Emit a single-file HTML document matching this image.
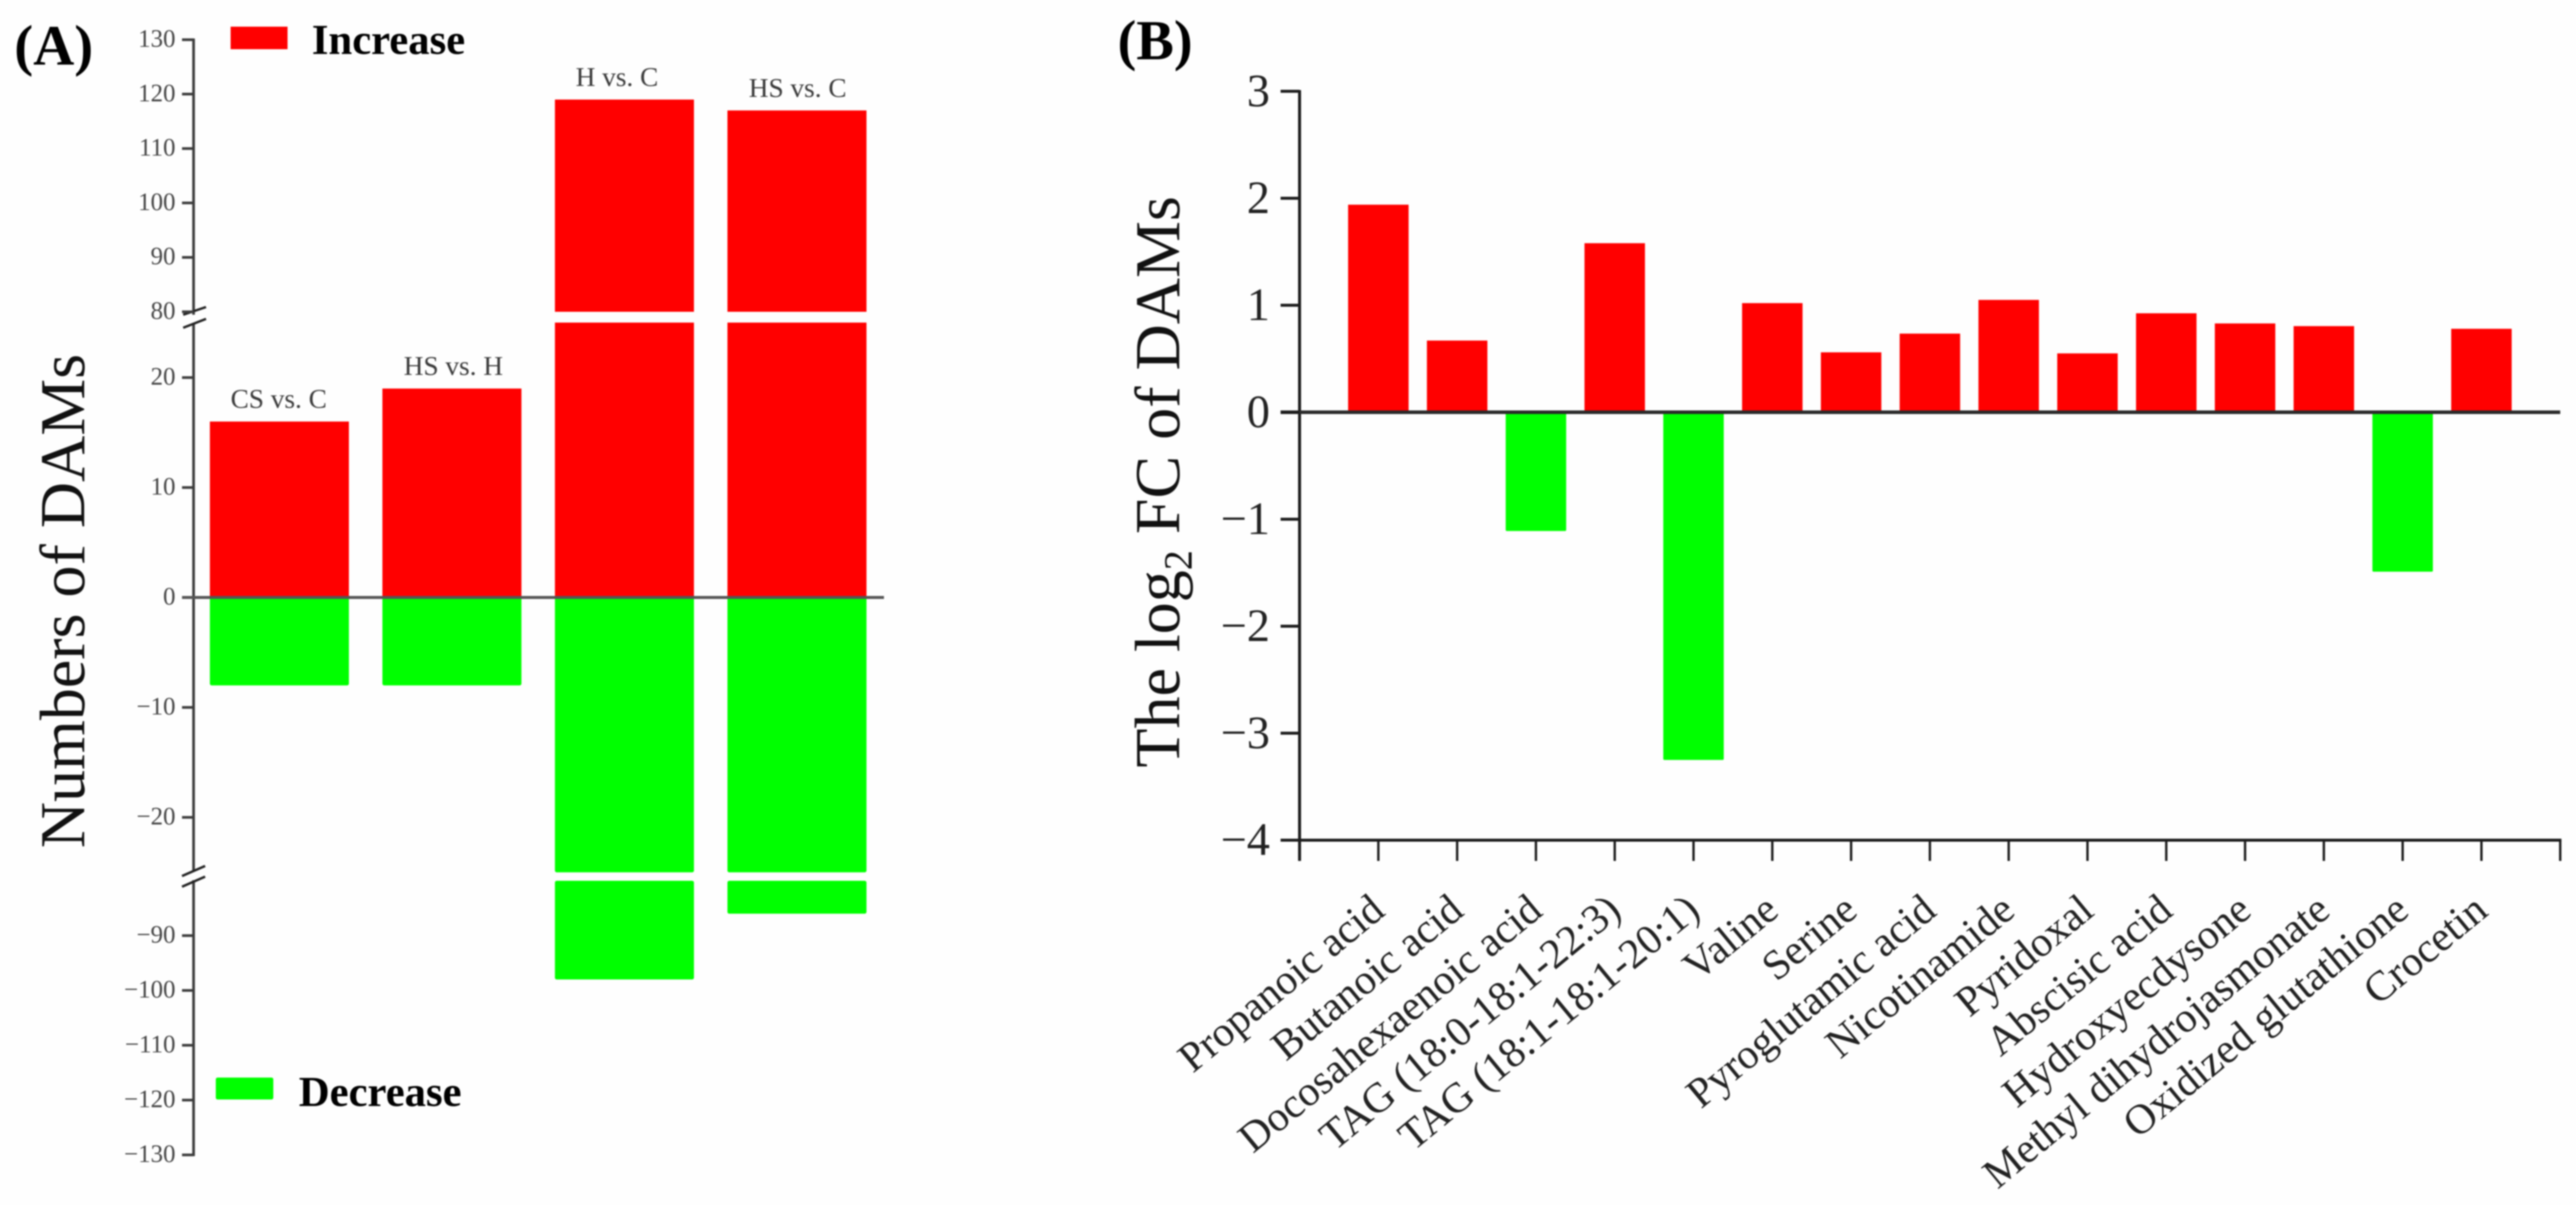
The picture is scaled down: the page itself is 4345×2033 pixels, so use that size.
<!DOCTYPE html>
<html lang="en">
<head>
<meta charset="utf-8">
<title>Numbers and log2 FC of DAMs</title>
<style>
html,body{margin:0;padding:0;background:#fefefe;}
svg{display:block;font-family:"Liberation Serif","Times New Roman",serif;filter:blur(1.2px);}
</style>
</head>
<body>
<svg id="figure" xmlns="http://www.w3.org/2000/svg" width="4345" height="2033" viewBox="0 0 4345 2033">
  <rect x="0" y="0" width="4345" height="2033" fill="#fefefe"/>
  <g id="panel-a"></g>
  <g id="panel-b"></g>

  <text x="24" y="109" font-size="96" font-weight="bold" fill="#000">(A)</text>
  <text x="1885" y="100" font-size="95" font-weight="bold" fill="#000">(B)</text>

  <text transform="translate(142,1431) rotate(-90)" font-size="108" fill="#111">Numbers of DAMs</text>
  <text transform="translate(1989,1295) rotate(-90)" font-size="108" fill="#111">The log<tspan font-size="68" dy="21">2</tspan><tspan dy="-21"> FC of DAMs</tspan></text>

  <rect x="389" y="45" width="96" height="38" fill="#ff0000"/>
  <text x="526" y="91" font-size="72" font-weight="bold" fill="#000">Increase</text>
  <rect x="364" y="1818" width="97" height="37" rx="3" fill="#00ff00"/>
  <text x="504" y="1866" font-size="72" font-weight="bold" fill="#000">Decrease</text>
</svg>

<script>
/* Panel A data */
const comparisons = ['CS vs. C', 'HS vs. H', 'H vs. C', 'HS vs. C'];
const increaseCounts = [16, 19, 119, 117];
const decreaseCounts = [-8, -8, -98, -86];
const panelATicks = [130, 120, 110, 100, 90, 80, 20, 10, 0, -10, -20, -90, -100, -110, -120, -130];
const panelATickLabels = ['130', '120', '110', '100', '90', '80', '20', '10', '0', '\u221210', '\u221220', '\u221290', '\u2212100', '\u2212110', '\u2212120', '\u2212130'];

/* Panel B data */
const metabolites = ['Propanoic acid', 'Butanoic acid', 'Docosahexaenoic acid', 'TAG (18:0-18:1-22:3)', 'TAG (18:1-18:1-20:1)', 'Valine', 'Serine', 'Pyroglutamic acid', 'Nicotinamide', 'Pyridoxal', 'Abscisic acid', 'Hydroxyecdysone', 'Methyl dihydrojasmonate', 'Oxidized glutathione', 'Crocetin'];
const log2FoldChange = [1.94, 0.67, -1.11, 1.58, -3.25, 1.02, 0.56, 0.735, 1.05, 0.55, 0.925, 0.83, 0.805, -1.49, 0.78];
const panelBTicks = [3, 2, 1, 0, -1, -2, -3, -4];
const panelBTickLabels = ['3', '2', '1', '0', '\u22121', '\u22122', '\u22123', '\u22124'];

const SVG_NS = 'http://www.w3.org/2000/svg';

function make(parent, tag, geometry, text) {
  const node = document.createElementNS(SVG_NS, tag);
  Object.keys(geometry).forEach(function (key) { node.setAttribute(key, geometry[key]); });
  if (text !== undefined) { node.textContent = text; }
  parent.appendChild(node);
  return node;
}

function slug(text) {
  return String(text).toLowerCase().replace(/[^a-z0-9]+/g, '-').replace(/^-|-$/g, '');
}

/* ---------- Panel A: three-part broken y axis ---------- */
const panelA = document.getElementById('panel-a');

function yA(v) {
  if (v >= 80) { return 526 + (80 - v) * 9.18; }
  if (v <= -80) { return 1486 + (-80 - v) * 9.25; }
  return 1008 - v * 18.55;
}
const breakHigh = 25;
const breakLow = 80;

function xA(i) {
  return [354, 645, 936, 1227][i];
}
const barWidthA = 234.5;

function drawBarA(i, top, bottom, color, kind, part) {
  const bar = make(panelA, 'rect', { x: xA(i), y: top, width: barWidthA, height: bottom - top, fill: color, rx: color === '#00ff00' ? 3 : 0 });
  
  
}

comparisons.forEach(function (name, i) {
  const up = increaseCounts[i];
  if (up > breakHigh) {
    drawBarA(i, yA(breakHigh), yA(0), '#ff0000', 'increase', '-lower');
    drawBarA(i, yA(up), yA(breakLow), '#ff0000', 'increase', '-upper');
  } else {
    drawBarA(i, yA(up), yA(0), '#ff0000', 'increase', '');
  }
  const down = decreaseCounts[i];
  if (-down > breakHigh) {
    drawBarA(i, yA(0), yA(-breakHigh), '#00ff00', 'decrease', '-upper');
    drawBarA(i, yA(-breakLow), yA(down), '#00ff00', 'decrease', '-lower');
  } else {
    drawBarA(i, yA(0), yA(down), '#00ff00', 'decrease', '');
  }
});

const barLabelOffsets = [389, 681, 971, 1263];
comparisons.forEach(function (name, i) {
  const label = make(panelA, 'text', { x: barLabelOffsets[i], y: yA(increaseCounts[i]) - 23, 'font-size': 46, fill: '#3a3a3a' }, name);
  
  
});

const axisColorA = '#3c3c3c';
[[yA(130), 531], [547, 1470], [1487, yA(-130) + 2]].forEach(function (span, i) {
  const seg = make(panelA, 'line', { x1: 326.5, x2: 326.5, y1: span[0] - 2, y2: span[1], stroke: axisColorA, 'stroke-width': 4.5 });
  
  
});

[[309, 531, 347.5, 518], [309, 553, 347.5, 538], [307, 1478, 346, 1461], [307, 1496, 346, 1479]].forEach(function (s, i) {
  const mark = make(panelA, 'line', { x1: s[0], y1: s[1], x2: s[2], y2: s[3], stroke: '#222', 'stroke-width': 4 });
  
  
});

panelATicks.forEach(function (value, i) {
  const tick = make(panelA, 'line', { x1: 307, x2: 327, y1: yA(value), y2: yA(value), stroke: axisColorA, 'stroke-width': 4.5 });
  
  
  const label = make(panelA, 'text', { x: 296, y: yA(value) + 12, 'font-size': 42, 'text-anchor': 'end', fill: '#444' }, panelATickLabels[i]);
  
  
});

const zeroLineA = make(panelA, 'line', { x1: 307, x2: 1491, y1: yA(0), y2: yA(0), stroke: '#555', 'stroke-width': 5 });



/* ---------- Panel B ---------- */
const panelB = document.getElementById('panel-b');

function yB(v) {
  return 695.5 - v * 180.5;
}
function xB(k) {
  return 2192 + k * 132.9;
}
const barWidthB = 102;

log2FoldChange.forEach(function (value, i) {
  const top = value >= 0 ? yB(value) : yB(0);
  const bottom = value >= 0 ? yB(0) : yB(value);
  const bar = make(panelB, 'rect', { x: xB(i + 1) - barWidthB / 2, y: top, width: barWidthB, height: bottom - top, fill: value >= 0 ? '#ff0000' : '#00ff00', rx: value >= 0 ? 0 : 2 });
  
  
});

const yAxisB = make(panelB, 'line', { x1: 2192, x2: 2192, y1: yB(3) - 2, y2: yB(-4) + 35, stroke: '#1c1c1c', 'stroke-width': 5 });



const xAxisB = make(panelB, 'line', { x1: 2160, x2: xB(16) + 2, y1: yB(-4), y2: yB(-4), stroke: '#1c1c1c', 'stroke-width': 5 });



const zeroLineB = make(panelB, 'line', { x1: 2160, x2: xB(16), y1: yB(0), y2: yB(0), stroke: '#2a2a2a', 'stroke-width': 6 });



panelBTicks.forEach(function (value, i) {
  const tick = make(panelB, 'line', { x1: 2160, x2: 2192, y1: yB(value), y2: yB(value), stroke: '#1c1c1c', 'stroke-width': 5 });
  
  
  const label = make(panelB, 'text', { x: 2142, y: yB(value) + 25, 'font-size': 78, 'text-anchor': 'end', fill: '#222' }, panelBTickLabels[i]);
  
  
});

for (let k = 1; k <= metabolites.length + 1; k++) {
  const tick = make(panelB, 'line', { x1: xB(k), x2: xB(k), y1: yB(-4), y2: yB(-4) + 35, stroke: '#1c1c1c', 'stroke-width': 4 });
  
  
}

metabolites.forEach(function (name, i) {
  const x = xB(i + 1) + 14;
  const label = make(panelB, 'text', { transform: 'translate(' + x + ',1542) rotate(-39.5)', 'font-size': 71, 'text-anchor': 'end', fill: '#222' }, name);
  
  
});
</script>
</body>
</html>
